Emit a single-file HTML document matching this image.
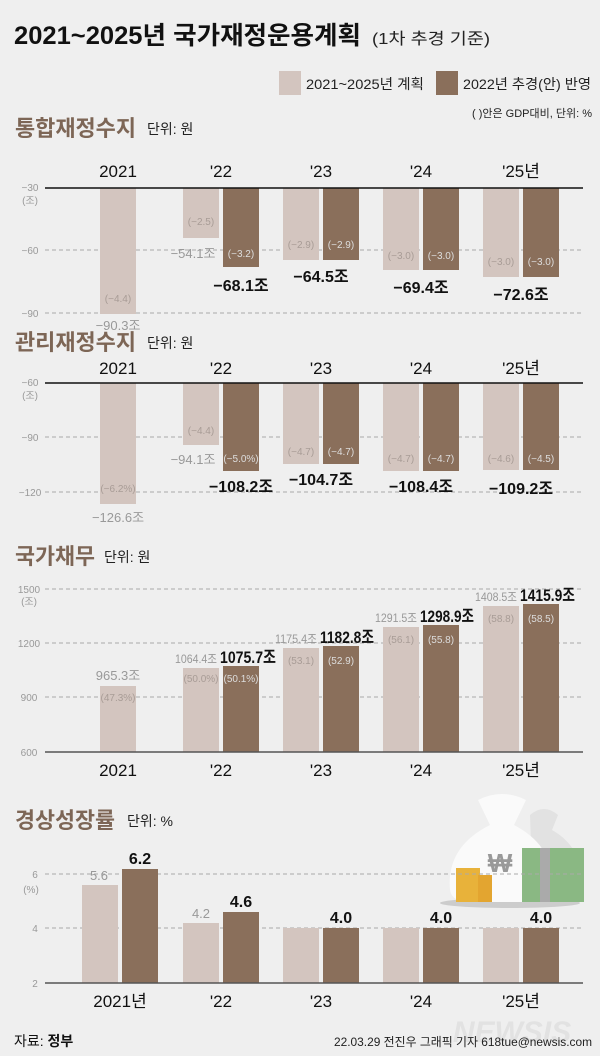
<!DOCTYPE html>
<html><head><meta charset="utf-8"><style>
body{margin:0;background:#efefef}
svg{display:block;font-family:"Liberation Sans","Noto Sans CJK KR",sans-serif}
.t{font-size:25px;font-weight:bold;fill:#111}
.h{font-size:22px;font-weight:bold;fill:#7d6656}
.u{font-size:14px;fill:#222}
.yr{font-size:17px;fill:#111;text-anchor:middle}
.ax{font-size:10px;fill:#999;text-anchor:middle}
.lv{font-size:13px;fill:#999;text-anchor:middle}
.dv{font-size:16px;font-weight:bold;fill:#111;text-anchor:middle}
.pl{font-size:10px;fill:#a89c96;text-anchor:middle}
.pd{font-size:10px;fill:#ddd;text-anchor:middle}
.L{fill:#d3c5bf}.D{fill:#8a6f5b}
.g{stroke:#aaa;stroke-dasharray:4 3;stroke-width:1}
</style></head><body>
<svg width="600" height="1056" viewBox="0 0 600 1056">
<rect width="600" height="1056" fill="#efefef"/>
<text x="14" y="44" class="t" textLength="347" lengthAdjust="spacingAndGlyphs">2021~2025년 국가재정운용계획</text>
<text x="372" y="44" font-size="16" fill="#222" textLength="118" lengthAdjust="spacingAndGlyphs">(1차 추경 기준)</text>
<rect x="279" y="71" width="22" height="24" class="L"/>
<text x="306" y="89" font-size="14" fill="#222" textLength="118" lengthAdjust="spacingAndGlyphs">2021~2025년 계획</text>
<rect x="436" y="71" width="22" height="24" class="D"/>
<text x="463" y="89" font-size="14" fill="#222" textLength="128" lengthAdjust="spacingAndGlyphs">2022년 추경(안) 반영</text>
<text x="592" y="117" font-size="11" fill="#222" text-anchor="end">( )안은 GDP대비, 단위: %</text>

<!-- Chart 1 -->
<text x="15" y="136" class="h" textLength="121" lengthAdjust="spacingAndGlyphs">통합재정수지</text><text x="147" y="134" class="u">단위: 원</text>
<g class="yr"><text x="118" y="177">2021</text><text x="221" y="177">'22</text><text x="321" y="177">'23</text><text x="421" y="177">'24</text><text x="521" y="177">'25년</text></g>
<line x1="45" x2="583" y1="250" y2="250" class="g"/><line x1="45" x2="583" y1="313" y2="313" class="g"/>
<text x="30" y="191" class="ax">−30</text><text x="30" y="204" class="ax">(조)</text>
<text x="30" y="254" class="ax">−60</text><text x="30" y="317" class="ax">−90</text>
<rect x="100" y="188" width="36" height="126" class="L"/>
<rect x="183" y="188" width="36" height="50" class="L"/><rect x="223" y="188" width="36" height="79" class="D"/>
<rect x="283" y="188" width="36" height="72" class="L"/><rect x="323" y="188" width="36" height="72" class="D"/>
<rect x="383" y="188" width="36" height="82" class="L"/><rect x="423" y="188" width="36" height="82" class="D"/>
<rect x="483" y="188" width="36" height="89" class="L"/><rect x="523" y="188" width="36" height="89" class="D"/>
<line x1="45" x2="583" y1="188" y2="188" stroke="#111" stroke-width="1.5"/>
<text x="118" y="302" class="pl">(−4.4)</text><text x="118" y="330" class="lv" font-size="15">−90.3조</text>
<text x="201" y="225" class="pl">(−2.5)</text><text x="193" y="258" class="lv" font-size="15">−54.1조</text>
<text x="241" y="257" class="pd">(−3.2)</text><text x="241" y="291" class="dv">−68.1조</text>
<text x="301" y="248" class="pl">(−2.9)</text><text x="341" y="248" class="pd">(−2.9)</text><text x="321" y="282" class="dv">−64.5조</text>
<text x="401" y="259" class="pl">(−3.0)</text><text x="441" y="259" class="pd">(−3.0)</text><text x="421" y="293" class="dv">−69.4조</text>
<text x="501" y="265" class="pl">(−3.0)</text><text x="541" y="265" class="pd">(−3.0)</text><text x="521" y="300" class="dv">−72.6조</text>

<!-- Chart 2 -->
<text x="15" y="350" class="h" textLength="121" lengthAdjust="spacingAndGlyphs">관리재정수지</text><text x="147" y="348" class="u">단위: 원</text>
<g class="yr"><text x="118" y="374">2021</text><text x="221" y="374">'22</text><text x="321" y="374">'23</text><text x="421" y="374">'24</text><text x="521" y="374">'25년</text></g>
<line x1="45" x2="583" y1="437" y2="437" class="g"/><line x1="45" x2="583" y1="492" y2="492" class="g"/>
<text x="30" y="386" class="ax">−60</text><text x="30" y="399" class="ax">(조)</text>
<text x="30" y="441" class="ax">−90</text><text x="30" y="496" class="ax">−120</text>
<rect x="100" y="383" width="36" height="121" class="L"/>
<rect x="183" y="383" width="36" height="62" class="L"/><rect x="223" y="383" width="36" height="88" class="D"/>
<rect x="283" y="383" width="36" height="81" class="L"/><rect x="323" y="383" width="36" height="81" class="D"/>
<rect x="383" y="383" width="36" height="88" class="L"/><rect x="423" y="383" width="36" height="88" class="D"/>
<rect x="483" y="383" width="36" height="87" class="L"/><rect x="523" y="383" width="36" height="87" class="D"/>
<line x1="45" x2="583" y1="383" y2="383" stroke="#111" stroke-width="1.5"/>
<text x="118" y="492" class="pl">(−6.2%)</text><text x="118" y="522" class="lv" font-size="15">−126.6조</text>
<text x="201" y="434" class="pl">(−4.4)</text><text x="193" y="464" class="lv" font-size="15">−94.1조</text>
<text x="241" y="462" class="pd">(−5.0%)</text><text x="241" y="492" class="dv">−108.2조</text>
<text x="301" y="455" class="pl">(−4.7)</text><text x="341" y="455" class="pd">(−4.7)</text><text x="321" y="485" class="dv">−104.7조</text>
<text x="401" y="462" class="pl">(−4.7)</text><text x="441" y="462" class="pd">(−4.7)</text><text x="421" y="492" class="dv">−108.4조</text>
<text x="501" y="462" class="pl">(−4.6)</text><text x="541" y="462" class="pd">(−4.5)</text><text x="521" y="494" class="dv">−109.2조</text>

<!-- Chart 3 -->
<text x="15" y="564" class="h" textLength="80" lengthAdjust="spacingAndGlyphs">국가채무</text><text x="104" y="562" class="u">단위: 원</text>
<line x1="45" x2="583" y1="589" y2="589" class="g"/><line x1="45" x2="583" y1="643" y2="643" class="g"/><line x1="45" x2="583" y1="697" y2="697" class="g"/>
<text x="29" y="593" class="ax">1500</text><text x="29" y="605" class="ax">(조)</text>
<text x="29" y="647" class="ax">1200</text><text x="29" y="701" class="ax">900</text><text x="29" y="756" class="ax">600</text>
<rect x="100" y="686" width="36" height="66" class="L"/>
<rect x="183" y="668" width="36" height="84" class="L"/><rect x="223" y="666" width="36" height="86" class="D"/>
<rect x="283" y="648" width="36" height="104" class="L"/><rect x="323" y="646" width="36" height="106" class="D"/>
<rect x="383" y="627" width="36" height="125" class="L"/><rect x="423" y="625" width="36" height="127" class="D"/>
<rect x="483" y="606" width="36" height="146" class="L"/><rect x="523" y="604" width="36" height="148" class="D"/>
<line x1="45" x2="583" y1="752" y2="752" stroke="#555" stroke-width="1.5"/>
<text x="118" y="680" class="lv" font-size="12">965.3조</text><text x="118" y="701" class="pl">(47.3%)</text>
<g font-size="12" fill="#999" text-anchor="end">
<text x="217" y="663" textLength="42" lengthAdjust="spacingAndGlyphs">1064.4조</text>
<text x="317" y="643" textLength="42" lengthAdjust="spacingAndGlyphs">1175.4조</text>
<text x="417" y="622" textLength="42" lengthAdjust="spacingAndGlyphs">1291.5조</text>
<text x="517" y="601" textLength="42" lengthAdjust="spacingAndGlyphs">1408.5조</text>
</g>
<g font-size="17" font-weight="bold" fill="#111">
<text x="220" y="663" textLength="56" lengthAdjust="spacingAndGlyphs">1075.7조</text>
<text x="320" y="643" textLength="54" lengthAdjust="spacingAndGlyphs">1182.8조</text>
<text x="420" y="622" textLength="54" lengthAdjust="spacingAndGlyphs">1298.9조</text>
<text x="520" y="601" textLength="55" lengthAdjust="spacingAndGlyphs">1415.9조</text>
</g>
<text x="201" y="682" class="pl">(50.0%)</text><text x="241" y="682" class="pd">(50.1%)</text>
<text x="301" y="664" class="pl">(53.1)</text><text x="341" y="664" class="pd">(52.9)</text>
<text x="401" y="643" class="pl">(56.1)</text><text x="441" y="643" class="pd">(55.8)</text>
<text x="501" y="622" class="pl">(58.8)</text><text x="541" y="622" class="pd">(58.5)</text>
<g class="yr"><text x="118" y="776">2021</text><text x="221" y="776">'22</text><text x="321" y="776">'23</text><text x="421" y="776">'24</text><text x="521" y="776">'25년</text></g>

<!-- Chart 4 -->
<text x="15" y="828" class="h" textLength="100" lengthAdjust="spacingAndGlyphs">경상성장률</text><text x="127" y="826" class="u">단위: %</text>
<ellipse cx="510" cy="903" rx="70" ry="5" fill="#ccc"/>
<path d="M530 815 q14 -12 28 0 l-6 15 q32 18 30 58 q0 12 -14 12 h-35 z" fill="#e2e2e2"/>
<path d="M478 800 q24 -12 48 0 l-12 25 q42 22 38 65 q-2 12 -20 12 h-62 q-18 0 -20 -12 q-4 -43 40 -65 z" fill="#fafafa"/>
<text x="500" y="872" font-size="26" font-weight="bold" fill="#999" text-anchor="middle">₩</text>
<rect x="456" y="868" width="24" height="34" fill="#e8b23a"/><rect x="478" y="875" width="14" height="27" fill="#e3a530"/>
<rect x="522" y="848" width="62" height="54" fill="#8ab883"/><rect x="540" y="848" width="10" height="54" fill="#aaa"/>
<line x1="45" x2="583" y1="874" y2="874" class="g"/><line x1="45" x2="583" y1="928" y2="928" class="g"/>
<text x="35" y="878" class="ax">6</text><text x="31" y="893" class="ax">(%)</text><text x="35" y="932" class="ax">4</text><text x="35" y="987" class="ax">2</text>
<rect x="82" y="885" width="36" height="98" class="L"/><rect x="122" y="869" width="36" height="114" class="D"/>
<rect x="183" y="923" width="36" height="60" class="L"/><rect x="223" y="912" width="36" height="71" class="D"/>
<rect x="283" y="928" width="36" height="55" class="L"/><rect x="323" y="928" width="36" height="55" class="D"/>
<rect x="383" y="928" width="36" height="55" class="L"/><rect x="423" y="928" width="36" height="55" class="D"/>
<rect x="483" y="928" width="36" height="55" class="L"/><rect x="523" y="928" width="36" height="55" class="D"/>
<line x1="45" x2="583" y1="983" y2="983" stroke="#555" stroke-width="1.5"/>
<text x="99" y="880" class="lv" font-size="17">5.6</text><text x="140" y="864" class="dv" font-size="19">6.2</text>
<text x="201" y="918" class="lv" font-size="17">4.2</text><text x="241" y="907" class="dv" font-size="19">4.6</text>
<text x="341" y="923" class="dv" font-size="19">4.0</text><text x="441" y="923" class="dv" font-size="19">4.0</text><text x="541" y="923" class="dv" font-size="19">4.0</text>
<g class="yr"><text x="120" y="1007">2021년</text><text x="221" y="1007">'22</text><text x="321" y="1007">'23</text><text x="421" y="1007">'24</text><text x="521" y="1007">'25년</text></g>
<text x="512" y="1042" font-size="30" font-weight="bold" font-style="italic" fill="#e2e2e2" text-anchor="middle">NEWSIS</text>
<text x="14" y="1046" font-size="14" fill="#111">자료: <tspan font-weight="bold">정부</tspan></text>
<text x="592" y="1046" font-size="12" fill="#222" text-anchor="end" textLength="258" lengthAdjust="spacingAndGlyphs">22.03.29 전진우 그래픽 기자 618tue@newsis.com</text>
</svg>
</body></html>
